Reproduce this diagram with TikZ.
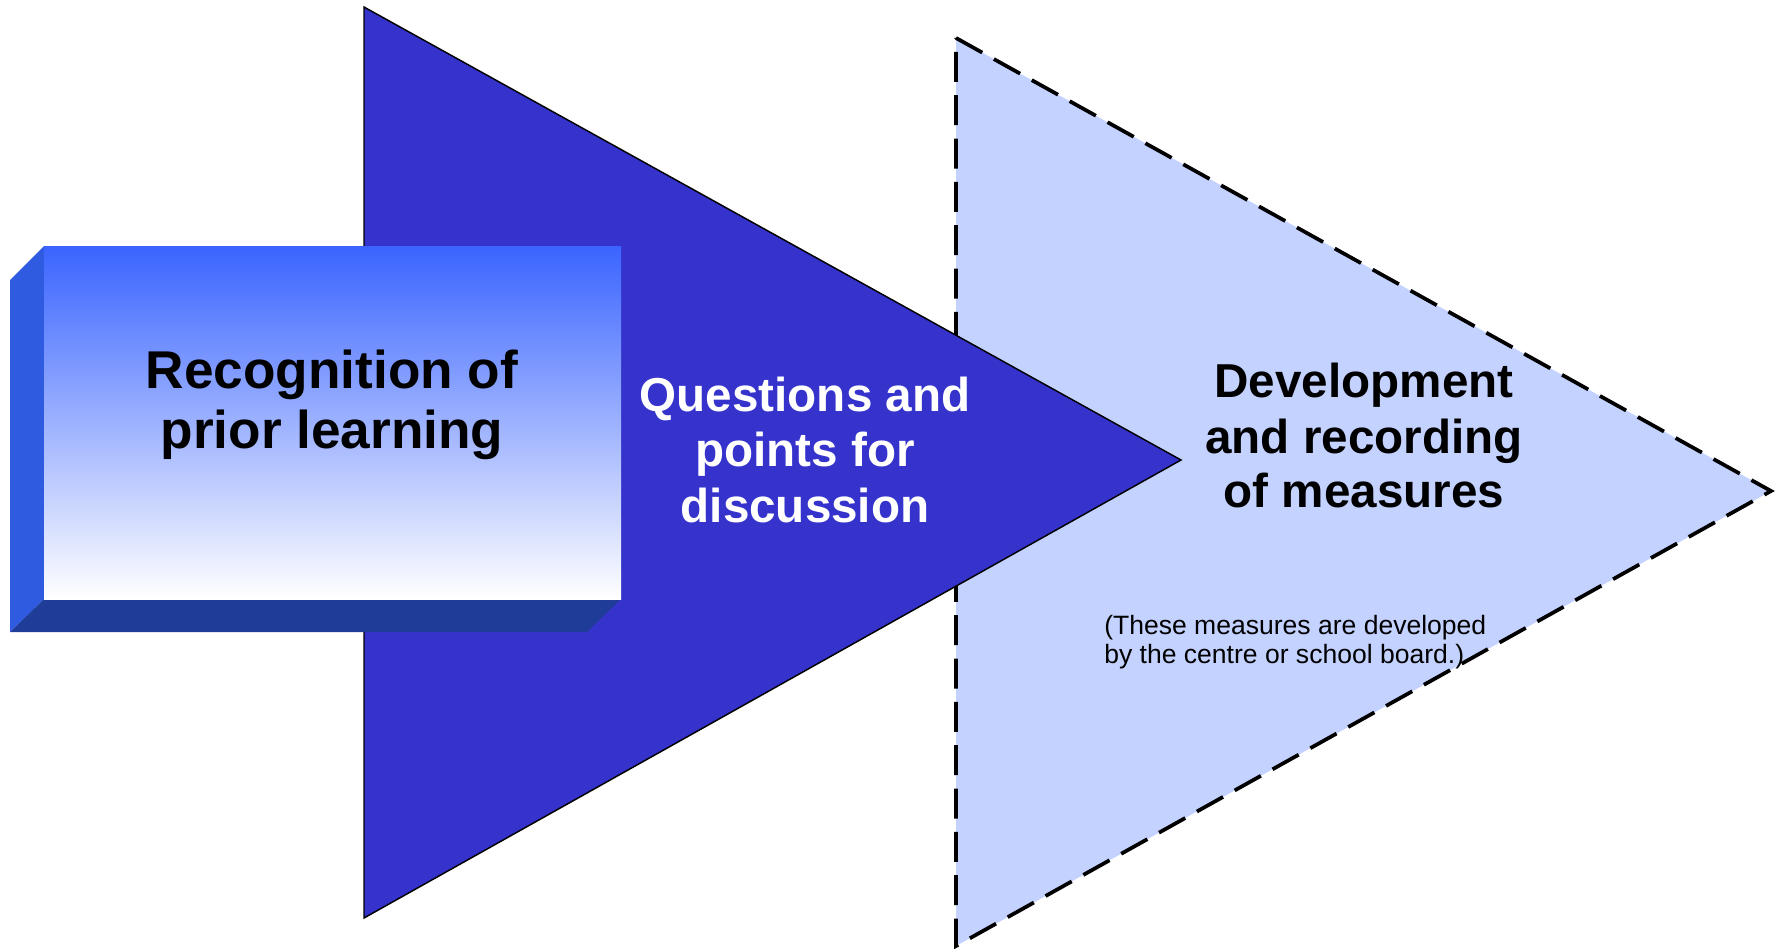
\documentclass[tikz,border=0pt]{standalone}
\usepackage{fontspec}
\setmainfont{Liberation Sans}
\definecolor{darkblue}{RGB}{53,51,204}
\definecolor{lightblue}{RGB}{196,210,255}
\definecolor{sideblue}{RGB}{47,91,224}
\definecolor{bottomblue}{RGB}{31,60,153}
\definecolor{topblue}{RGB}{58,100,255}
\definecolor{midblue}{RGB}{188,194,250}
\begin{document}
\begin{tikzpicture}[x=0.75pt,y=-0.75pt,
  bigtext/.style={inner sep=0pt,anchor=base,font=\fontsize{35.7pt}{41pt}\selectfont\bfseries},
  boxtext/.style={inner sep=0pt,anchor=base,font=\fontsize{39.9pt}{46pt}\selectfont\bfseries},
  smalltext/.style={inner sep=0pt,anchor=base west,font=\fontsize{19.9pt}{23pt}\selectfont}]
\useasboundingbox (0,0) rectangle (1777,949);
% light dashed triangle
\path[fill=lightblue,draw=black,line width=2.8pt,dash pattern=on 22.5pt off 10pt,line join=miter]
  (956,38) -- (1771,491) -- (956,946) -- cycle;
% dark triangle
\draw[fill=darkblue,line width=1.1pt,line join=miter] (364,7) -- (1181,460) -- (364,918) -- cycle;
% 3D box
\fill[sideblue] (10,280) -- (44,246) -- (44,599) -- (10,632) -- cycle;
\fill[bottomblue] (10,632) -- (44,599) -- (621,599) -- (587,632) -- cycle;
\shade[top color=topblue,middle color=midblue,bottom color=white] (44,246) rectangle (621,599);
% texts
\node[boxtext] (r1) at (332,388) {Recognition of};
\node[boxtext] (r2) at (332,448) {prior learning};
\node[bigtext,text=white] (q1) at (805,411) {Questions and};
\node[bigtext,text=white] (q2) at (805,466) {points for};
\node[bigtext,text=white] (q3) at (805,522) {discussion};
\node[bigtext] (d1) at (1364,397) {Development};
\node[bigtext] (d2) at (1364,453) {and recording};
\node[bigtext] (d3) at (1364,507) {of measures};
\node[smalltext] (s1) at (1104,634) {(These measures are developed};
\node[smalltext] (s2) at (1104,663) {by the centre or school board.)};
\end{tikzpicture}
\end{document}
